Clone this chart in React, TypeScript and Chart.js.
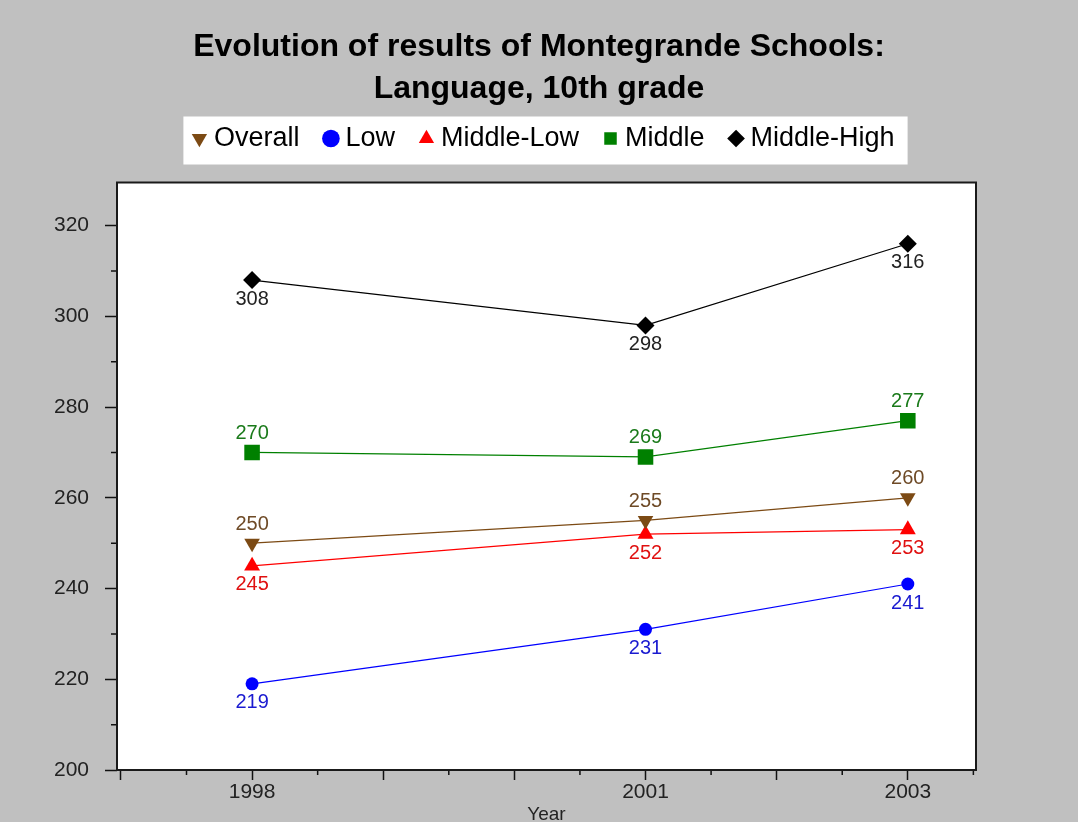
import React, { useEffect, useRef } from "react";
import { Chart, registerables } from "chart.js";

Chart.register(...registerables);

// ---- data ----
const years = [1998, 2001, 2003];
const seriesNames = ["Overall", "Low", "Middle-Low", "Middle", "Middle-High"];
const overall = [250, 255, 260];
const low = [219, 231, 241];
const middleLow = [245, 252, 253];
const middle = [270, 269, 277];
const middleHigh = [308, 298, 316];
const seriesValues = [overall, low, middleLow, middle, middleHigh];
const xTickLabels = [1998, 2001, 2003];
const titleLines = ["Evolution of results of Montegrande Schools:", "Language, 10th grade"];
const xAxisTitle = "Year";

// ---- styles ----
const seriesColors = ["#7c4a14", "#0000ff", "#ff0000", "#008000", "#000000"];
const labelColors = ["#6e4a26", "#1a1ad0", "#e01010", "#1a7a1a", "#222222"];
const pointStyles = ["triangle", "circle", "triangle", "rect", "rectRot"];
const pointRotations = [180, 0, 0, 0, 0];
const pointRadii = [9, 6.5, 9.2, 11, 9];
const labelSides = [-1, 1, 1, -1, 1]; // -1 above point, 1 below
const FONT = '"Liberation Sans", Arial, Helvetica, sans-serif';

const backgroundPlugin = {
  id: "bgPlugin",
  beforeDraw(chart: any) {
    const { ctx, width, height, chartArea } = chart;
    ctx.save();
    ctx.fillStyle = "#c0c0c0";
    ctx.fillRect(0, 0, width, height);
    ctx.fillStyle = "#ffffff";
    ctx.fillRect(chartArea.left, chartArea.top, chartArea.right - chartArea.left, chartArea.bottom - chartArea.top);
    const lg = chart.legend;
    if (lg && lg.legendHitBoxes && lg.legendHitBoxes.length) {
      const hb = lg.legendHitBoxes;
      const first = hb[0];
      const last = hb[hb.length - 1];
      const cy = first.top + first.height / 2;
      const l = first.left - 15;
      const r = last.left + last.width + 13;
      ctx.fillRect(l, cy - 22, r - l, 48);
    }
    ctx.restore();
  },
};

const framePlugin = {
  id: "framePlugin",
  afterDraw(chart: any) {
    const { ctx, chartArea } = chart;
    const xs = chart.scales.x;
    const ys = chart.scales.y;
    ctx.save();
    ctx.strokeStyle = "#111";
    ctx.lineWidth = 1.5;
    ctx.beginPath();
    xs.ticks.forEach((t: any) => {
      if (Math.abs(t.value - Math.round(t.value)) > 1e-6) {
        const px = xs.getPixelForValue(t.value);
        ctx.moveTo(px, chartArea.bottom);
        ctx.lineTo(px, chartArea.bottom + 5);
      }
    });
    ys.ticks.forEach((t: any) => {
      if (Math.round(t.value) % 20 !== 0) {
        const py = ys.getPixelForValue(t.value);
        ctx.moveTo(chartArea.left, py);
        ctx.lineTo(chartArea.left - 6, py);
      }
    });
    ctx.stroke();
    ctx.lineWidth = 2;
    ctx.strokeStyle = "#1a1a1a";
    ctx.strokeRect(chartArea.left, chartArea.top, chartArea.right - chartArea.left, chartArea.bottom - chartArea.top);
    ctx.restore();
  },
};

const valueLabelPlugin = {
  id: "valueLabels",
  afterDatasetsDraw(chart: any) {
    const { ctx } = chart;
    ctx.save();
    ctx.font = `20px ${FONT}`;
    ctx.textAlign = "center";
    ctx.textBaseline = "middle";
    chart.data.datasets.forEach((ds: any, i: number) => {
      const meta = chart.getDatasetMeta(i);
      ctx.fillStyle = labelColors[i];
      meta.data.forEach((pt: any, j: number) => {
        ctx.fillText(String(seriesValues[i][j]), pt.x, pt.y + labelSides[i] * 19);
      });
    });
    ctx.restore();
  },
};

export default function App() {
  const canvasRef = useRef<HTMLCanvasElement | null>(null);

  useEffect(() => {
    document.body.style.margin = "0";
    document.body.style.background = "#c0c0c0";
    const canvas = canvasRef.current;
    if (!canvas) return;

    const datasets = seriesNames.map((name, i) => ({
      label: name,
      data: years.map((yr, j) => ({ x: yr, y: seriesValues[i][j] })),
      borderColor: seriesColors[i],
      backgroundColor: seriesColors[i],
      pointBackgroundColor: seriesColors[i],
      pointBorderColor: seriesColors[i],
      pointBorderWidth: 0,
      pointStyle: pointStyles[i],
      pointRotation: pointRotations[i],
      pointRadius: pointRadii[i],
      borderWidth: 1.25,
      fill: false,
      tension: 0,
      xAxisID: "x",
      yAxisID: "y",
    }));

    const chart = new Chart(canvas, {
      type: "line",
      data: { datasets } as any,
      plugins: [backgroundPlugin, framePlugin, valueLabelPlugin],
      options: {
        animation: false,
        responsive: true,
        maintainAspectRatio: false,
        events: [],
        layout: { padding: 0 },
        scales: {
          x: {
            type: "linear",
            position: "bottom",
            min: 1996.97,
            max: 2003.52,
            afterFit: (s: any) => {
              s.height = 52;
            },
            ticks: {
              stepSize: 0.5,
              includeBounds: false,
              autoSkip: false,
              maxRotation: 0,
              padding: 0,
              color: "#222",
              font: { family: FONT, size: 21 },
              callback: (v: any) => (xTickLabels.includes(Number(v)) ? String(v) : ""),
            },
            grid: {
              display: true,
              drawOnChartArea: false,
              drawTicks: true,
              tickLength: 10,
              tickWidth: 1.5,
              tickColor: (c: any) =>
                c.tick && Math.abs(c.tick.value - Math.round(c.tick.value)) < 1e-6 ? "#111" : "rgba(0,0,0,0)",
            },
            border: { display: false },
            title: {
              display: true,
              text: xAxisTitle,
              color: "#222",
              font: { family: FONT, size: 19 },
              padding: { top: 0, bottom: -4 },
            },
          } as any,
          y: {
            type: "linear",
            position: "left",
            min: 200,
            max: 329.5,
            afterFit: (s: any) => {
              s.width = 117;
            },
            ticks: {
              stepSize: 10,
              includeBounds: false,
              autoSkip: false,
              padding: 16,
              color: "#222",
              font: { family: FONT, size: 21 },
              callback: (v: any) => (Math.round(Number(v)) % 20 === 0 ? String(v) : ""),
            },
            grid: {
              display: true,
              drawOnChartArea: false,
              drawTicks: true,
              tickLength: 12,
              tickWidth: 1.5,
              tickColor: (c: any) =>
                c.tick && Math.round(c.tick.value) % 20 === 0 ? "#111" : "rgba(0,0,0,0)",
            },
            border: { display: false },
          } as any,
          yRight: {
            type: "linear",
            position: "right",
            display: true,
            afterFit: (s: any) => {
              s.width = 102;
            },
            ticks: { display: false },
            grid: { display: false },
            border: { display: false },
          } as any,
        },
        plugins: {
          title: {
            display: true,
            text: titleLines,
            color: "#000",
            font: { family: FONT, size: 32, weight: "bold", lineHeight: "42px" },
            padding: { top: 26, bottom: -15.5 },
          } as any,
          subtitle: {
            display: true,
            text: " ",
            position: "top",
            weight: 500,
            font: { size: 1, lineHeight: "1px" },
            padding: { top: 19.5, bottom: 0 },
          } as any,
          legend: {
            display: true,
            position: "top",
            fullSize: false,
            labels: {
              usePointStyle: true,
              boxWidth: 2,
              boxHeight: 12.5,
              padding: 30.5,
              color: "#000",
              font: { family: FONT, size: 27 },
            },
          } as any,
          tooltip: { enabled: false },
        },
      },
    });

    return () => {
      chart.destroy();
    };
  }, []);

  return (
    <div style={{ width: 1078, height: 822, position: "relative" }}>
      <canvas ref={canvasRef} />
    </div>
  );
}
